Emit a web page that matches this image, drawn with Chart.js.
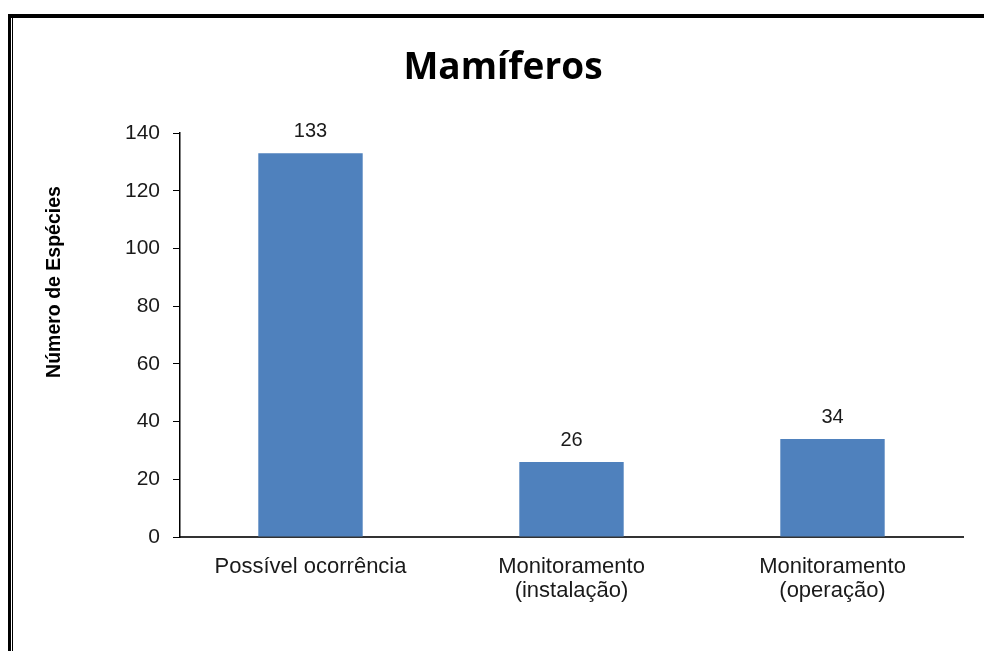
<!DOCTYPE html>
<html>
<head>
<meta charset="utf-8">
<script src="https://cdn.jsdelivr.net/npm/chart.js@4"></script>
<style>
  html, body { margin: 0; padding: 0; background: #fff; }
  #wrap { position: relative; width: 984px; height: 651px; overflow: hidden; }
  #chart1 { position: absolute; left: 0; top: 0; }
  .ln { position: absolute; background: #000; }
</style>
</head>
<body>
<div id="wrap">
  <canvas id="chart1" width="984" height="651"></canvas>
  <!-- frame around the figure -->
  <div class="ln" style="left:8px; top:14px; width:976px; height:4px;"></div>
  <div class="ln" style="left:8px; top:14px; width:3px; height:637px;"></div>
  <div class="ln" style="left:12px; top:18px; width:1px; height:633px;"></div>
</div>
<script>
"use strict"

// data
const categories = [
    'Possível ocorrência',
    ['Monitoramento', '(instalação)'],
    ['Monitoramento', '(operação)']
]
const especies = [133, 26, 34]
const yTicks = [0, 20, 40, 60, 80, 100, 120, 140]

const chartTitle = 'Mamíferos'
const yTitle = 'Número de Espécies'

// value labels over the bars + titles
const textPlugin = {
    id: 'textPlugin',
    afterDatasetsDraw(chart) {
        const ctx = chart.ctx
        ctx.save()
        ctx.fillStyle = '#1a1a1a'
        ctx.textAlign = 'center'
        ctx.textBaseline = 'alphabetic'
        ctx.font = '20px "Liberation Sans", Arial, sans-serif'
        let meta = chart.getDatasetMeta(0)
        meta.data.forEach((bar, i) => {
            ctx.fillText(String(especies[i]), bar.x, bar.y - 16)
        })

        // main title
        ctx.fillStyle = '#000'
        ctx.font = 'bold 37px "Open Sans", sans-serif'
        ctx.fillText(chartTitle, 503, 79)

        // y axis title
        ctx.translate(55, 282)
        ctx.rotate(-Math.PI / 2)
        ctx.textBaseline = 'middle'
        ctx.font = 'bold 19.5px "Liberation Sans", Arial, sans-serif'
        ctx.fillText(yTitle, 0, 0)
        ctx.restore()
    }
}

const ctx = document.getElementById('chart1')

let myChart = new Chart(ctx, {
    type: 'bar',
    data: {
        labels: categories,
        datasets: [{
            data: especies,
            backgroundColor: '#4f81bd',
            borderWidth: 0,
            barPercentage: 0.4,
            categoryPercentage: 1
        }]
    },
    options: {
        responsive: false,
        animation: false,
        layout: { padding: { top: 133, right: 21, bottom: 0, left: 0 } },
        plugins: {
            legend: { display: false },
            tooltip: { enabled: false },
            title: { display: false }
        },
        scales: {
            x: {
                grid: { display: false },
                border: { display: true, color: '#333', width: 2 },
                ticks: {
                    color: '#1a1a1a',
                    padding: 10,
                    maxRotation: 0,
                    font: { family: '"Liberation Sans", Arial, sans-serif', size: 22, lineHeight: 1.1 }
                },
                afterFit(scale) { scale.height = 114 }
            },
            y: {
                min: 0,
                max: 140,
                afterBuildTicks(scale) { scale.ticks = yTicks.map(v => ({ value: v })) },
                grid: { drawOnChartArea: false, drawTicks: true, tickLength: 7, color: '#000' },
                border: { display: true, color: '#000', width: 1.5 },
                ticks: {
                    color: '#1a1a1a',
                    padding: 13,
                    font: { family: '"Liberation Sans", Arial, sans-serif', size: 21 }
                },
                afterFit(scale) { scale.width = 180 }
            }
        }
    },
    plugins: [textPlugin]
})
</script>
</body>
</html>
